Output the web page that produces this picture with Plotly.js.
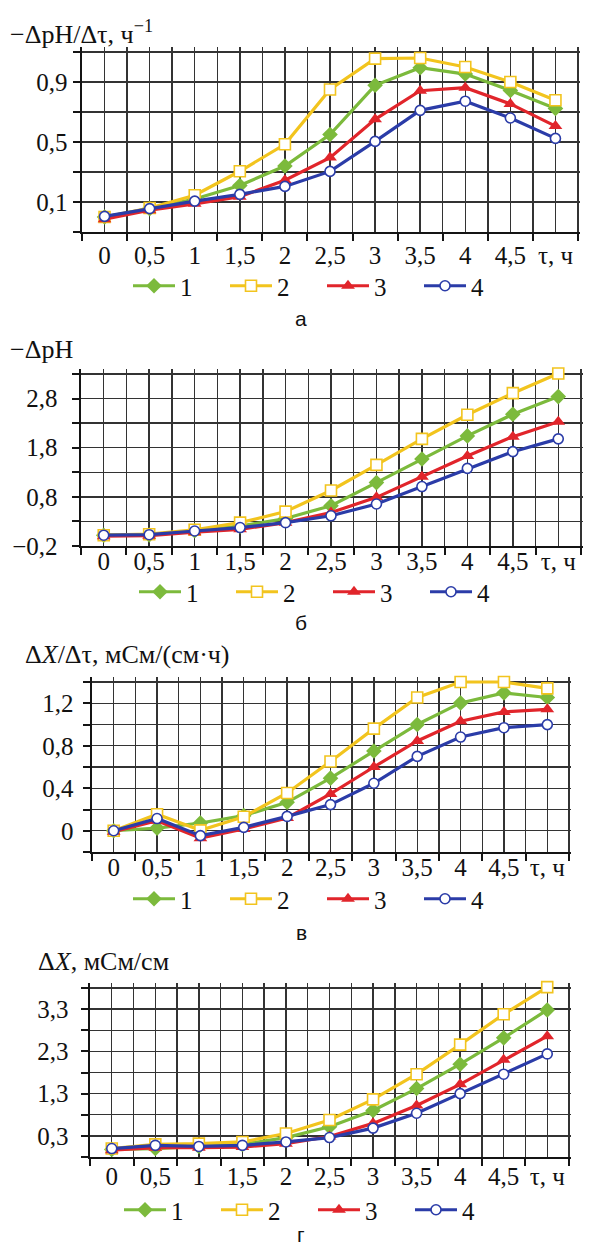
<!DOCTYPE html>
<html><head><meta charset="utf-8">
<script src="https://cdn.plot.ly/plotly-3.0.1.min.js"></script>
<style>html,body{margin:0;padding:0;background:#fff}#chart{width:592px;height:1247px}</style>
</head><body><div id="chart"></div>
<script>
// ---------- data ----------
const tau = [0, 0.5, 1, 1.5, 2, 2.5, 3, 3.5, 4, 4.5, 5];
const tauLabels = ['0', '0,5', '1', '1,5', '2', '2,5', '3', '3,5', '4', '4,5', 'τ, ч'];
const seriesNames = ['1', '2', '3', '4'];

// а: −ΔpH/Δτ, ч⁻¹
const a1 = [0.00, 0.056, 0.12, 0.21, 0.34, 0.55, 0.878, 0.995, 0.953, 0.844, 0.724];
const a2 = [0.00, 0.06, 0.145, 0.305, 0.485, 0.85, 1.056, 1.06, 1.0, 0.9, 0.778];
const a3 = [-0.015, 0.045, 0.088, 0.135, 0.245, 0.396, 0.651, 0.842, 0.862, 0.754, 0.606];
const a4 = [0.004, 0.056, 0.106, 0.151, 0.204, 0.304, 0.504, 0.711, 0.772, 0.66, 0.524];
const aTicks = [0.1, 0.5, 0.9];
const aTickText = ['0,1', '0,5', '0,9'];

// б: −ΔpH
const b1 = [0.02, 0.025, 0.11, 0.205, 0.36, 0.62, 1.09, 1.57, 2.04, 2.48, 2.84];
const b2 = [0.02, 0.04, 0.13, 0.275, 0.50, 0.93, 1.45, 1.98, 2.47, 2.91, 3.31];
const b3 = [0.0, 0.01, 0.08, 0.14, 0.275, 0.48, 0.79, 1.21, 1.63, 2.025, 2.33];
const b4 = [0.02, 0.03, 0.105, 0.175, 0.275, 0.415, 0.655, 1.01, 1.38, 1.72, 1.98];
const bTicks = [-0.2, 0.8, 1.8, 2.8];
const bTickText = ['−0,2', '0,8', '1,8', '2,8'];

// в: ΔX/Δτ, мСм/(см·ч)
const c1 = [0.0, 0.025, 0.073, 0.142, 0.268, 0.495, 0.75, 1.0, 1.203, 1.298, 1.254];
const c2 = [0.0, 0.155, 0.004, 0.132, 0.356, 0.652, 0.961, 1.254, 1.40, 1.40, 1.34];
const c3 = [-0.01, 0.095, -0.07, 0.016, 0.12, 0.347, 0.60, 0.845, 1.03, 1.118, 1.143];
const c4 = [0.0, 0.115, -0.046, 0.032, 0.135, 0.246, 0.447, 0.70, 0.882, 0.97, 0.999];
const cTicks = [0, 0.4, 0.8, 1.2];
const cTickText = ['0', '0,4', '0,8', '1,2'];

// г: ΔX, мСм/см
const d1 = [-0.02, 0.0, 0.05, 0.10, 0.26, 0.516, 0.90, 1.42, 1.997, 2.62, 3.28];
const d2 = [0.0, 0.10, 0.116, 0.156, 0.356, 0.676, 1.164, 1.76, 2.46, 3.18, 3.82];
const d3 = [-0.04, 0.02, 0.02, 0.036, 0.116, 0.284, 0.596, 1.02, 1.52, 2.10, 2.66];
const d4 = [0.0, 0.076, 0.05, 0.076, 0.156, 0.26, 0.484, 0.835, 1.30, 1.76, 2.24];
const dTicks = [0.3, 1.3, 2.3, 3.3];
const dTickText = ['0,3', '1,3', '2,3', '3,3'];

// ---------- styling / layout ----------
const W = 592, H = 1247;
const SERIF = 'Liberation Serif';
const SANS = 'Liberation Sans';
const GRID = '#333333', AXIS = '#141414';
const TICK_FS = 25, TITLE_FS = 26;
const styles = [
  {color: '#7cba3c', symbol: 'diamond', size: 12, fill: '#7cba3c'},
  {color: '#f2c41e', symbol: 'square', size: 11, fill: '#ffffff'},
  {color: '#e1252b', symbol: 'triangle-up', size: 12, fill: '#e1252b'},
  {color: '#2b3ca8', symbol: 'circle', size: 10, fill: '#ffffff'}
];

const panels = [
  {series: [a1, a2, a3, a4], yMin: -0.1, yMax: 1.1, yStep: 0.2, ticks: aTicks, tickText: aTickText,
   box: {l: 82, r: 578, t: 52, b: 232}, title: '−ΔpH/Δτ, ч<sup>−1</sup>', titleX: 8, titleY: 32,
   caption: 'а', capY: 318, legX: 128, legY: 286, xStand: 0, yStand: 0},
  {series: [b1, b2, b3, b4], yMin: -0.2, yMax: 3.3, yStep: 0.5, ticks: bTicks, tickText: bTickText,
   box: {l: 81, r: 581, t: 374, b: 546}, title: '−ΔpH', titleX: 8, titleY: 349,
   caption: 'б', capY: 622, legX: 134, legY: 592, xStand: -8, yStand: 9},
  {series: [c1, c2, c3, c4], yMin: -0.2, yMax: 1.4, yStep: 0.2, ticks: cTicks, tickText: cTickText,
   box: {l: 92, r: 569, t: 682, b: 852}, title: 'Δ<i>X</i>/Δτ, мСм/(см·ч)', titleX: 23, titleY: 654,
   caption: 'в', capY: 932, legX: 128, legY: 899, xStand: -8, yStand: 4},
  {series: [d1, d2, d3, d4], yMin: -0.2, yMax: 3.8, yStep: 0.5, ticks: dTicks, tickText: dTickText,
   box: {l: 90, r: 569, t: 988, b: 1157}, title: 'Δ<i>X</i>, мСм/см', titleX: 36, titleY: 961,
   caption: 'г', capY: 1234, legX: 119, legY: 1210, xStand: -4, yStand: 7}
];

const EXT_TOP = 5;   // vertical grid lines poke above top grid line
const EXT_R = 1.5;

const traces = [];
const layout = {
  width: W, height: H, margin: {l: 0, r: 0, t: 0, b: 0},
  paper_bgcolor: '#ffffff', plot_bgcolor: '#ffffff',
  font: {family: SERIF, size: TICK_FS, color: '#111'},
  showlegend: true, annotations: [], hovermode: false
};

const xBounds = [];
for (let k = 0; k <= tau.length; k++) xBounds.push(-0.25 + 0.5 * k);

panels.forEach((p, i) => {
  const n = i + 1;
  const xk = n === 1 ? 'xaxis' : 'xaxis' + n;
  const yk = n === 1 ? 'yaxis' : 'yaxis' + n;
  const lk = n === 1 ? 'legend' : 'legend' + n;
  const bx = p.box;
  const xSpan = 5.5;
  const xMax = 5.25 + EXT_R * xSpan / (bx.r - bx.l);
  const ySpan = p.yMax - p.yMin;
  const yTop = p.yMax + EXT_TOP * ySpan / (bx.b - bx.t);

  const minorY = [];
  const steps = Math.round(ySpan / p.yStep);
  for (let s = 0; s <= steps; s++) {
    const v = +(p.yMin + s * p.yStep).toFixed(4);
    if (!p.ticks.some(t => Math.abs(t - v) < 1e-6)) minorY.push(v);
  }

  layout[xk] = {
    domain: [bx.l / W, (bx.r + EXT_R) / W], range: [-0.25, xMax],
    anchor: n === 1 ? 'y' : 'y' + n,
    tickmode: 'array', tickvals: tau, ticktext: tauLabels, ticks: '',
    ticklabelstandoff: p.xStand,
    tickfont: {family: SERIF, size: TICK_FS, color: '#111'},
    showgrid: true, gridcolor: GRID, gridwidth: 1.4,
    showline: true, linecolor: AXIS, linewidth: 2.4, zeroline: false, fixedrange: true,
    minor: {tickmode: 'array', tickvals: xBounds, ticks: 'outside', ticklen: 7, tickwidth: 2,
            tickcolor: AXIS, showgrid: true, gridcolor: GRID, gridwidth: 1.4}
  };
  layout[yk] = {
    domain: [1 - bx.b / H, 1 - (bx.t - EXT_TOP) / H], range: [p.yMin, yTop],
    anchor: n === 1 ? 'x' : 'x' + n,
    tickmode: 'array', tickvals: p.ticks, ticktext: p.tickText,
    ticks: 'outside', ticklen: 7, tickwidth: 2, tickcolor: AXIS,
    ticklabelstandoff: p.yStand,
    tickfont: {family: SERIF, size: TICK_FS, color: '#111'},
    showgrid: true, gridcolor: GRID, gridwidth: 1.4,
    showline: true, linecolor: AXIS, linewidth: 2.4, zeroline: false, fixedrange: true,
    minor: {tickmode: 'array', tickvals: minorY, ticks: 'outside', ticklen: 7, tickwidth: 2,
            tickcolor: AXIS, showgrid: true, gridcolor: GRID, gridwidth: 1.4}
  };
  layout[lk] = {
    orientation: 'h', x: p.legX / W, xanchor: 'left', y: 1 - p.legY / H, yanchor: 'middle',
    itemwidth: 42, entrywidth: 40, entrywidthmode: 'pixels', bgcolor: 'rgba(0,0,0,0)',
    font: {family: SERIF, size: TICK_FS, color: '#111'}, itemclick: false, itemdoubleclick: false,
    tracegroupgap: 0
  };

  p.series.forEach((vals, j) => {
    const st = styles[j];
    traces.push({
      type: 'scatter', mode: 'lines+markers', x: tau, y: vals, name: seriesNames[j],
      xaxis: n === 1 ? 'x' : 'x' + n, yaxis: n === 1 ? 'y' : 'y' + n, legend: lk,
      line: {color: st.color, width: 3.2},
      marker: {symbol: st.symbol, size: st.size, color: st.fill,
               line: {color: st.color, width: st.fill === '#ffffff' ? 1.6 : 0}},
      cliponaxis: false
    });
  });

  layout.annotations.push({
    xref: 'paper', yref: 'paper', x: p.titleX / W, y: 1 - p.titleY / H,
    xanchor: 'left', yanchor: 'middle', text: p.title, showarrow: false,
    font: {family: SERIF, size: TITLE_FS, color: '#111'}
  });
  layout.annotations.push({
    xref: 'paper', yref: 'paper', x: 301 / W, y: 1 - p.capY / H,
    xanchor: 'center', yanchor: 'middle', text: p.caption, showarrow: false,
    font: {family: SANS, size: 21, color: '#111'}
  });
});

Plotly.newPlot('chart', traces, layout, {staticPlot: true, displayModeBar: false});
</script></body></html>
